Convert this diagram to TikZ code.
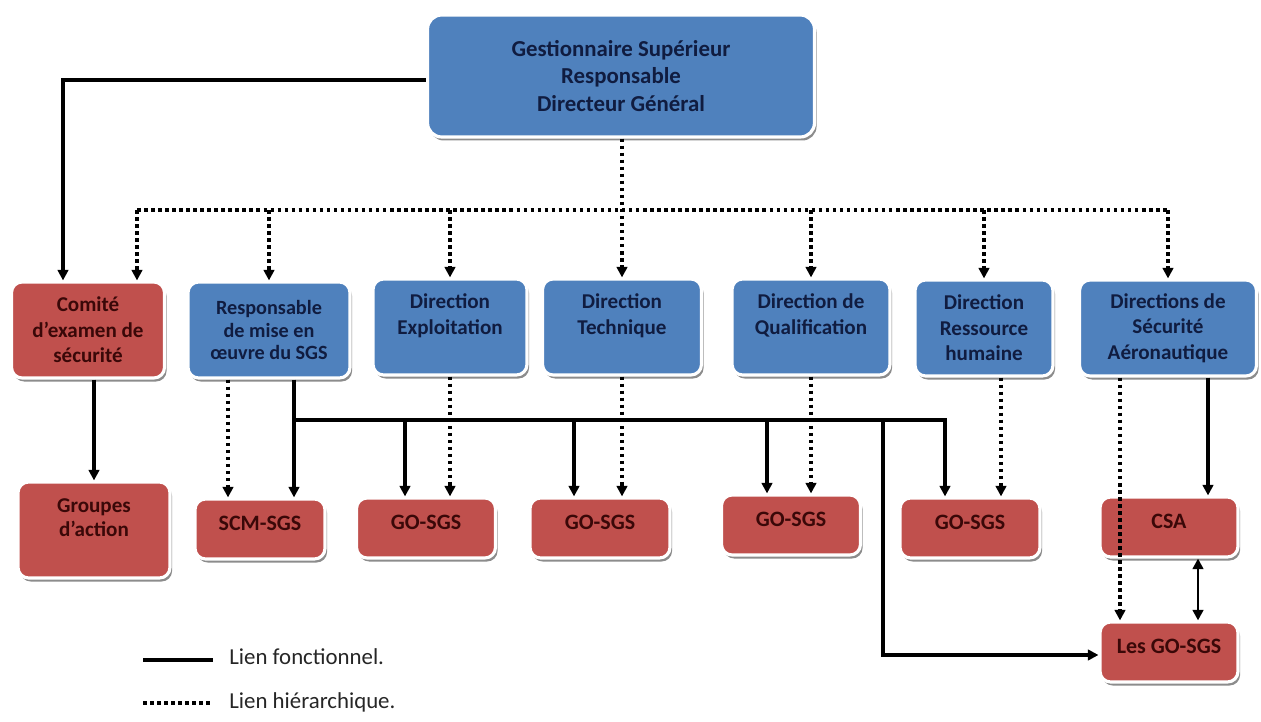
\documentclass[tikz,border=0pt]{standalone}
\usepackage{fontspec}
\setmainfont{Carlito}
\usepackage{tikz}
\usetikzlibrary{arrows.meta,positioning,calc,shadows}
\definecolor{orgblue}{RGB}{79,129,189}
\definecolor{orgred}{RGB}{192,80,77}
\definecolor{bluetext}{RGB}{16,28,64}
\definecolor{redtext}{RGB}{58,8,8}

\begin{document}
\begin{tikzpicture}[x=0.02cm, y=-0.02cm,
  box/.style={rectangle, rounded corners=6pt, draw=white, line width=1.8pt, inner sep=0pt, align=center,
    font=\bfseries\fontsize{12}{14.5}\selectfont,
    drop shadow={shadow xshift=1.2pt, shadow yshift=-2pt, opacity=0.45, fill=black}},
  bluebox/.style={box, fill=orgblue, text=bluetext},
  redbox/.style={box, fill=orgred, text=redtext},
  dirbox/.style={bluebox, minimum height=1.92cm},
  gobox/.style={redbox, minimum height=1.2cm, text depth=6.5pt, font=\bfseries\fontsize{12.5}{15}\selectfont},
  fonct/.style={line width=2pt, -{Triangle[width=6pt,length=6pt]}},
  hier/.style={line width=2pt, dash pattern=on 2pt off 2pt},
  hierarrow/.style={hier, -{Triangle[width=6pt,length=6pt]}},
  legend/.style={anchor=west, inner sep=0pt, font=\fontsize{13}{15}\selectfont, text=black!85}
]
  \fill[white] (0,0) rectangle (1261,722);
  \useasboundingbox (0,0) rectangle (1261,722);

  %% Top
  \node[bluebox, rounded corners=8pt, minimum width=7.74cm, minimum height=2.44cm,
    font=\bfseries\fontsize{13}{15.5}\selectfont] (gsr) at (621,76)
    {Gestionnaire Supérieur\\Responsable\\Directeur Général};

  %% Second row
  \node[redbox, minimum width=3.06cm, minimum height=1.92cm] (comite) at (88,330) {Comité\\d'examen de\\sécurité};
  \node[dirbox, minimum width=3.24cm, font=\bfseries\fontsize{11.5}{13}\selectfont] (resp) at (269,330) {Responsable\\de mise en\\œuvre du SGS};
  \node[dirbox, minimum width=3.08cm] (exploit) at (450,327) {Direction\\Exploitation\\\mbox{}};
  \node[dirbox, minimum width=3.18cm] (tech) at (622,327) {Direction\\Technique\\\mbox{}};
  \node[dirbox, minimum width=3.16cm] (qualif) at (811,327) {Direction de\\Qualification\\\mbox{}};
  \node[dirbox, minimum width=2.76cm] (rh) at (984,328) {Direction\\Ressource\\humaine};
  \node[dirbox, minimum width=3.54cm] (dsa) at (1168,328) {Directions de\\Sécurité\\Aéronautique};

  %% Third row
  \node[redbox, minimum width=3.04cm, minimum height=1.92cm, font=\bfseries\fontsize{12}{13.7}\selectfont] (groupes) at (94,530) {Groupes\\d'action\\\mbox{}};
  \node[gobox, minimum width=2.6cm] (scm) at (260,529) {SCM-SGS};
  \node[gobox, minimum width=2.78cm] (go1) at (426,528) {GO-SGS};
  \node[gobox, minimum width=2.8cm] (go2) at (600,528) {GO-SGS};
  \node[gobox, minimum width=2.78cm] (go3) at (791,525) {GO-SGS};
  \node[gobox, minimum width=2.8cm] (go4) at (970,528) {GO-SGS};
  \node[gobox, minimum width=2.76cm] (csa) at (1169,527) {CSA};
  \node[gobox, minimum width=2.76cm] (les) at (1169,652) {Les GO-SGS};

  %% Hierarchical links
  \coordinate (hL) at (137,210);
  \coordinate (hR) at (1168,210);
  \draw[hierarrow] (tech.north |- gsr.south) -- (tech.north);
  \draw[hier] (hL) -- (hR);
  \draw[hierarrow] (hL) -- (hL |- comite.north);
  \foreach \n in {resp,exploit,qualif,rh}
    \draw[hierarrow] (\n.north |- hL) -- (\n.north);
  \draw[hierarrow] (hR) -- (dsa.north);

  \draw[hierarrow] ($(resp.south)+(-41,0)$) -- ($(scm.north)+(-32,0)$);
  \draw[hierarrow] (exploit.south) -- (exploit.south |- go1.north);
  \draw[hierarrow] (tech.south) -- (tech.south |- go2.north);
  \draw[hierarrow] (qualif.south) -- (qualif.south |- go3.north);
  \draw[hierarrow] ($(rh.south)+(17,0)$) -- ($(go4.north)+(31,0)$);

  %% Functional links
  \draw[fonct] ($(gsr.west)+(0,4)$) -| ($(comite.north)+(-25,0)$);
  \draw[fonct] (groupes.north |- comite.south) -- (groupes.north);

  \coordinate (busL) at (294,420);
  \coordinate (busB) at (883,420);
  \coordinate (d1) at (405,420);
  \coordinate (d2) at (574,420);
  \coordinate (d3) at (767,420);
  \draw[fonct] ($(resp.south)+(25,0)$) -- ($(scm.north)+(34,0)$);
  \draw[fonct] (busL) -| ($(go4.north)+(-25,0)$);
  \draw[fonct] (d1) -- (d1 |- go1.north);
  \draw[fonct] (d2) -- (d2 |- go2.north);
  \draw[fonct] (d3) -- (d3 |- go3.north);
  \draw[fonct] (busB) |- ($(les.west)+(0,3)$);

  \draw[fonct] ($(dsa.south)+(40,0)$) -- ($(csa.north)+(39,0)$);
  \draw[line width=1.5pt, {Triangle[width=6pt,length=6pt]}-{Triangle[width=6pt,length=6pt]}]
    ($(csa.south)+(29,0)$) -- ($(les.north)+(29,0)$);
  \draw[hierarrow] ($(dsa.south)+(-48,0)$) -- ($(les.north)+(-49,0)$);

  %% Legend
  \draw[line width=2pt] (143,660) -- (213,660);
  \node[legend] (lfonct) at (229,657) {Lien fonctionnel.};
  \draw[hier] (143,703) -- (213,703);
  \node[legend] (lhier) at (229,702) {Lien hiérarchique.};
\end{tikzpicture}
\end{document}
